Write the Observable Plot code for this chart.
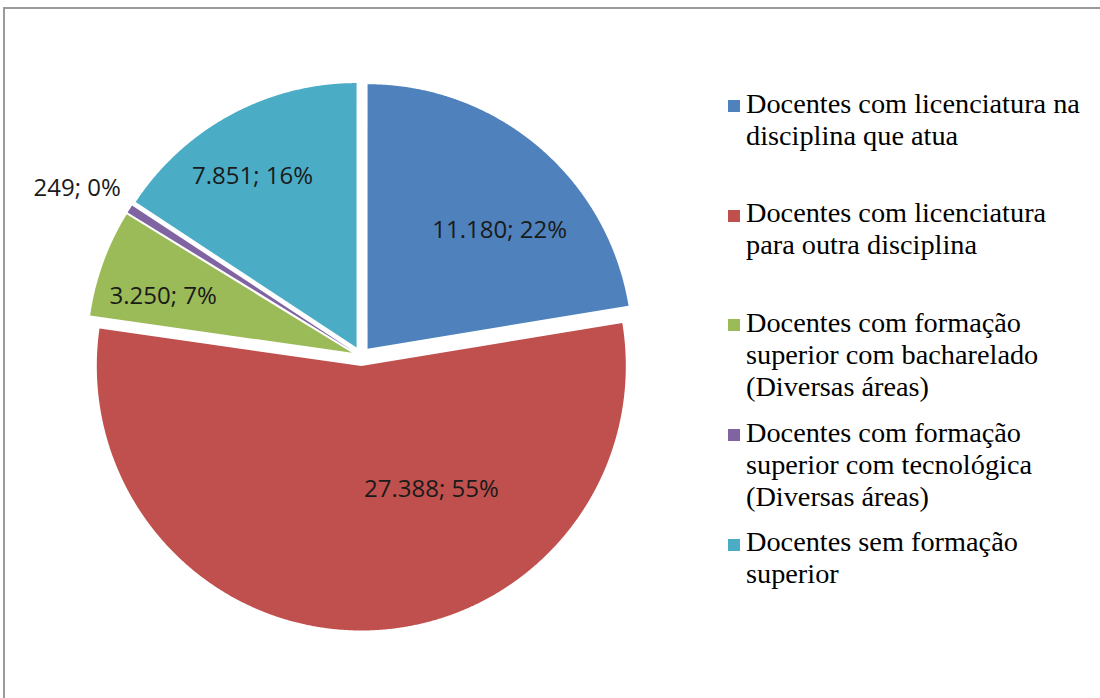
<!DOCTYPE html>
<html><head><meta charset="utf-8">
<script src="https://cdn.jsdelivr.net/npm/d3@7"></script>
<script src="https://cdn.jsdelivr.net/npm/@observablehq/plot@0.6"></script>
<style>
html,body{margin:0;padding:0;background:#fff}
body{width:1100px;height:698px;overflow:hidden;position:relative}
#chart{position:absolute;left:0;top:0}
#ftop{position:absolute;left:3px;top:7px;width:1097px;height:2px;background:#9a9a9a}
#fleft{position:absolute;left:3px;top:7px;width:2px;height:691px;background:#9a9a9a}
#legend{position:absolute;left:0;top:0;font-family:'Liberation Serif','Times New Roman',serif;font-size:28.3px;color:#000}
.item{position:absolute;left:746px;line-height:32px;white-space:nowrap}
.sw{position:absolute;width:12px;height:12px;left:-18px;top:12.6px}
</style></head><body>
<div id="chart"></div><div id="ftop"></div><div id="fleft"></div><div id="legend"></div>
<script>
const categories = [
  "Docentes com licenciatura na disciplina que atua",
  "Docentes com licenciatura para outra disciplina",
  "Docentes com formação superior com bacharelado (Diversas áreas)",
  "Docentes com formação superior com tecnológica (Diversas áreas)",
  "Docentes sem formação superior"
];
const legendLines = [
  ["Docentes com licenciatura na", "disciplina que atua"],
  ["Docentes com licenciatura", "para outra disciplina"],
  ["Docentes com formação", "superior com bacharelado", "(Diversas áreas)"],
  ["Docentes com formação", "superior com tecnológica", "(Diversas áreas)"],
  ["Docentes sem formação", "superior"]
];
const values = [11180, 27388, 3250, 249, 7851];
const colors = ["#4F81BD", "#C0504D", "#9BBB59", "#8064A2", "#4BACC6"];

// layout (label placement relative to each slice, in degrees clockwise from top and radius fraction)
const labelAngle = [48.2, 150.4, 286.6, 300.5, 328.7];
const labelRadius = [0.67, 0.537, 0.745, 1.21, 0.757];
const R = 264.5, CX = 360.7, CY = 355.7, EXPLODE = 9.8 / 264.5;
const W = 1100, H = 698;

const total = d3.sum(values);
const fmt = d3.formatLocale({decimal: ",", thousands: ".", grouping: [3], currency: ["", ""]}).format(",d");
const arcs = d3.pie().sort(null).value(d => d)(values);
const pts = [];
const labels = [];
arcs.forEach((a, i) => {
  const name = categories[i];
  const mid = (a.startAngle + a.endAngle) / 2;
  const ox = EXPLODE * Math.sin(mid), oy = EXPLODE * Math.cos(mid);
  pts.push({name, x: ox, y: oy});
  const n = Math.max(2, Math.ceil((a.endAngle - a.startAngle) / 0.004));
  for (let j = 0; j <= n; j++) {
    const t = a.startAngle + (a.endAngle - a.startAngle) * j / n;
    pts.push({name, x: ox + Math.sin(t), y: oy + Math.cos(t)});
  }
  const la = labelAngle[i] * Math.PI / 180;
  labels.push({
    x: ox + labelRadius[i] * Math.sin(la),
    y: oy + labelRadius[i] * Math.cos(la),
    text: fmt(values[i]) + "; " + Math.round(values[i] / total * 100) + "%"
  });
});

const chart = Plot.plot({
  width: W, height: H, margin: 0,
  style: {background: "transparent"},
  x: {domain: [-CX / R, (W - CX) / R], axis: null},
  y: {domain: [-(H - CY) / R, CY / R], axis: null},
  color: {domain: categories, range: colors},
  marks: [
    Plot.line(pts, {x: "x", y: "y", z: "name", fill: "name", stroke: "none", curve: "linear"}),
    Plot.text(labels, {x: "x", y: "y", text: "text", fontSize: 24, fontFamily: "Open Sans", fill: "#1a1a1a"})
  ]
});
document.getElementById("chart").appendChild(chart);

const leg = document.getElementById("legend");
legendLines.forEach((lines, i) => {
  const d = document.createElement("div");
  d.className = "item";
  d.style.top = (87.7 + 109.6 * i) + "px";
  const sw = document.createElement("div");
  sw.className = "sw";
  sw.style.background = colors[i];
  d.appendChild(sw);
  lines.forEach(l => { const s = document.createElement("div"); s.textContent = l; d.appendChild(s); });
  leg.appendChild(d);
});
</script>
</body></html>
